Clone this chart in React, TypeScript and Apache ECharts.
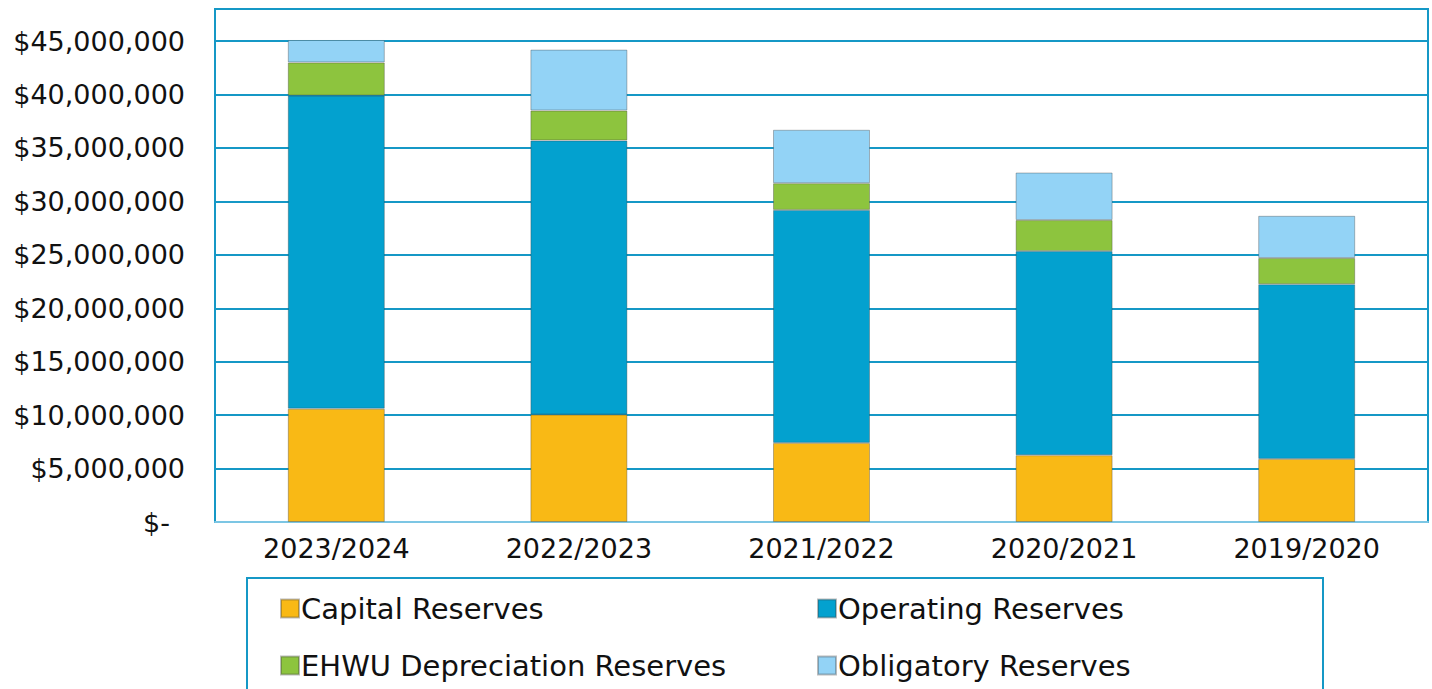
import React, { useEffect, useRef } from "react";
import * as echarts from "echarts";

const categories = ["2023/2024", "2022/2023", "2021/2022", "2020/2021", "2019/2020"];
const capitalReserves = [10600000, 10050000, 7400000, 6250000, 5900000];
const operatingReserves = [29300000, 25650000, 21800000, 19100000, 16350000];
const ehwuReserves = [3100000, 2800000, 2500000, 2900000, 2450000];
const obligatoryReserves = [2100000, 5700000, 5000000, 4450000, 3950000];

const seriesNames = [
  "Capital Reserves",
  "Operating Reserves",
  "EHWU Depreciation Reserves",
  "Obligatory Reserves",
];
const seriesColors = ["#F9B915", "#03A1CF", "#8DC43E", "#93D3F6"];

const BLUE = "#1598C6";
const FONT = "DejaVu Sans";

function fmt(v: number): string {
  if (v === 0) return "{z|$-}";
  return "$" + v.toLocaleString("en-US");
}

export default function App() {
  const ref = useRef<HTMLDivElement>(null);
  useEffect(() => {
    if (!ref.current) return;
    const chart = echarts.init(ref.current, null, { renderer: "svg" });
    const values = [capitalReserves, operatingReserves, ehwuReserves, obligatoryReserves];
    chart.setOption({
      animation: false,
      backgroundColor: "#ffffff",
      grid: {
        left: 215,
        right: 4,
        top: 9,
        bottom: 167,
        show: true,
        borderColor: BLUE,
        borderWidth: 2,
        backgroundColor: "transparent",
      },
      xAxis: {
        type: "category",
        data: categories,
        axisLine: { show: true, lineStyle: { color: "#7cc6e4", width: 2 } },
        axisTick: { show: false },
        axisLabel: {
          color: "#111",
          fontFamily: FONT,
          fontSize: 27,
          margin: 13,
        },
      },
      yAxis: {
        type: "value",
        min: 0,
        max: 48000000,
        interval: 5000000,
        axisLine: { show: false },
        axisTick: { show: false },
        splitLine: { lineStyle: { color: BLUE, width: 2 } },
        axisLabel: {
          showMaxLabel: false,
          color: "#111",
          fontFamily: FONT,
          fontSize: 27,
          margin: 30,
          formatter: fmt,
          rich: {
            z: { fontFamily: FONT, fontSize: 27, color: "#111", padding: [0, 15, 0, 0] },
          },
        },
      },
      legend: [
        {
          data: [seriesNames[0], seriesNames[2]],
          orient: "vertical",
          left: 280,
          top: 594,
          padding: 0,
          itemWidth: 18,
          itemHeight: 18,
          itemGap: 28,
          icon: "rect",
          textStyle: { fontFamily: FONT, fontSize: 29, color: "#111", padding: [0, 0, 0, -3] },
        },
        {
          data: [seriesNames[1], seriesNames[3]],
          orient: "vertical",
          left: 817,
          top: 594,
          padding: 0,
          itemWidth: 18,
          itemHeight: 18,
          itemGap: 28,
          icon: "rect",
          textStyle: { fontFamily: FONT, fontSize: 29, color: "#111", padding: [0, 0, 0, -3] },
        },
      ],
      graphic: [
        {
          type: "rect",
          shape: { x: 247, y: 578, width: 1076, height: 130 },
          style: { fill: "none", stroke: BLUE, lineWidth: 2 },
          silent: true,
        },
      ],
      series: seriesNames.map((name, i) => ({
        name,
        type: "bar",
        stack: "total",
        barWidth: 97,
        data: values[i],
        itemStyle: {
          color: seriesColors[i],
          borderColor: "rgba(60,60,60,0.35)",
          borderWidth: 1,
        },
      })),
    });
    return () => chart.dispose();
  }, []);
  return (
    <div
      ref={ref}
      style={{ position: "fixed", left: 0, top: 0, width: 1432, height: 689 }}
    />
  );
}
